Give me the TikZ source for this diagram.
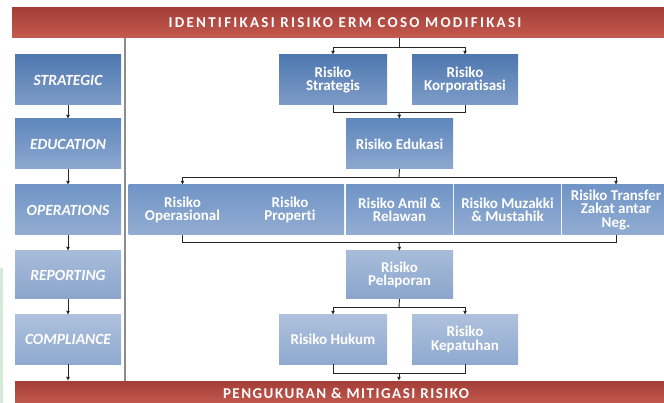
\documentclass[tikz,border=0pt]{standalone}
\usepackage{fontspec}
\setmainfont{Carlito}[Ligatures=NoCommon]
\usetikzlibrary{arrows.meta}
\definecolor{rA1}{HTML}{A33E37}\definecolor{rA2}{HTML}{C55B50}
\definecolor{b1t}{HTML}{4F78B0}\definecolor{b1b}{HTML}{7E9DC8}
\definecolor{b2t}{HTML}{5F87BC}\definecolor{b2b}{HTML}{8DA8CF}
\definecolor{b3t}{HTML}{7095C6}\definecolor{b3b}{HTML}{93ADD2}
\definecolor{b4t}{HTML}{A8BCDA}\definecolor{b4b}{HTML}{8AA5CC}
\definecolor{b5t}{HTML}{AEC1DD}\definecolor{b5b}{HTML}{8FA9CF}
\definecolor{greenedge}{HTML}{D3EADA}
\tikzset{
  x=1pt, y=-1pt,
  box/.style={rectangle, inner sep=0pt, align=center, text=white,
    font=\fontsize{15}{13.5}\selectfont\bfseries, minimum height=50pt},
  lbox/.style={box, minimum width=106pt, font=\fontsize{15.5}{14}\selectfont\bfseries\itshape},
  row1/.style={top color=b1t, bottom color=b1b},
  row2/.style={top color=b2t, bottom color=b2b},
  row3/.style={top color=b3t, bottom color=b3b},
  row4/.style={top color=b4t, bottom color=b4b},
  row5/.style={top color=b5t, bottom color=b5b},
  banner/.style={rectangle, inner sep=0pt, top color=rA1, bottom color=rA2, text=white,
    font=\fontsize{15}{16}\selectfont\bfseries},
  conn/.style={draw=black!85, line width=0.9pt},
  arr/.style={conn, -{Latex[length=4pt,width=4pt]}},
  divider/.style={draw=black!45, line width=1.6pt}
}
\begin{document}
\begin{tikzpicture}
\useasboundingbox (0,0) rectangle (664,403);
\begin{scope}
\clip (0,0) rectangle (664,403);
\fill[greenedge] (0,268) rectangle (3,403);
% banners
\node[banner, minimum width=666pt, minimum height=30pt] (top) at (345,23) {\addfontfeatures{LetterSpace=15}IDENTIFIKASI RISIKO ERM COSO MODIFIKASI};
\node[banner, minimum width=662pt, minimum height=24pt] (bot) at (346,393) {\addfontfeatures{LetterSpace=10}PENGUKURAN \& MITIGASI RISIKO};
% left column
\node[lbox,row1] (L1) at (68,80) {STRATEGIC};
\node[lbox,row2] (L2) at (68,144) {EDUCATION};
\node[lbox,row3] (L3) at (68,210) {OPERATIONS};
\node[lbox,row4, minimum height=48pt] (L4) at (68,275) {REPORTING};
\node[lbox,row5, minimum height=49pt] (L5) at (68,339.5) {COMPLIANCE};
\draw[arr] (L1) -- (L2);
\draw[arr] (L2) -- (L3);
\draw[arr] (L3) -- (L4);
\draw[arr] (L4) -- (L5);
\draw[arr] (L5.south) -- (L5.south |- bot.north);
% divider
\coordinate (dv) at (125,0);
\draw[divider] (top.south -| dv) -- (bot.north -| dv);
% right side
\node[box,row1,minimum width=108pt] (strat) at (333,80) {Risiko\\Strategis};
\node[box,row1,minimum width=106pt] (korp) at (465,80) {Risiko\\Korporatisasi};
\node[box,row2,minimum width=107pt] (edu) at (399.5,144) {Risiko Edukasi};
\node[box,row3,minimum width=107.6pt] (ops) at (182.5,210) {Risiko\\Operasional};
\node[box,row3,minimum width=108pt] (prop) at (290,210) {Risiko\\Properti};
\node[box,row3,minimum width=107pt] (amil) at (399.5,210) {Risiko Amil \&\\Relawan};
\node[box,row3,minimum width=107pt] (muz) at (507.5,210) {Risiko Muzakki\\\& Mustahik};
\node[box,row3,minimum width=108pt] (trf) at (616,210) {Risiko Transfer\\Zakat antar\\Neg.};
\node[box,row4,minimum width=107pt, minimum height=48pt] (pel) at (399.5,275) {Risiko\\Pelaporan};
\node[box,row5,minimum width=108pt, minimum height=49pt] (huk) at (333,339.5) {Risiko Hukum};
\node[box,row5,minimum width=106pt, minimum height=49pt] (kep) at (465,339.5) {Risiko\\Kepatuhan};
% connectors
\coordinate (c1) at (399,47);
\draw[conn] (top.south -| c1) -- (c1);
\draw[arr] (c1) -| (strat.north);
\draw[arr] (c1) -| (korp.north);
\coordinate (c2) at (399,112);
\draw[conn] (strat.south) |- (c2);
\draw[conn] (korp.south) |- (c2);
\draw[arr] (c2) -- (edu.north);
\coordinate (c3) at (399,177);
\draw[conn] (edu.south) -- (c3);
\draw[arr] (c3) -| (ops.north);
\draw[arr] (c3) -| (trf.north);
\coordinate (c4) at (399,242);
\draw[conn] (ops.south) |- (c4);
\draw[conn] (trf.south) |- (c4);
\draw[arr] (c4) -- (pel.north);
\coordinate (c5) at (399,307);
\draw[conn] (pel.south) -- (c5);
\draw[arr] (c5) -| (huk.north);
\draw[arr] (c5) -| (kep.north);
\coordinate (c6) at (399,373);
\draw[conn] (huk.south) |- (c6);
\draw[conn] (kep.south) |- (c6);
\draw[arr] (c6) -- (c6 |- bot.north);
\end{scope}
\end{tikzpicture}
\end{document}
